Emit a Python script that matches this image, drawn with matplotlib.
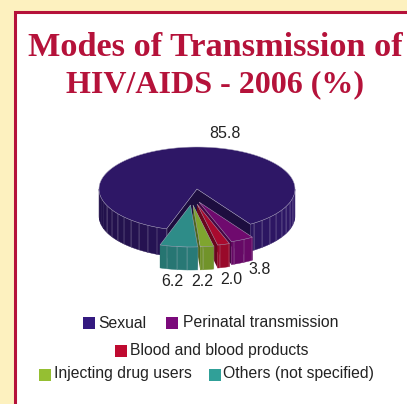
import numpy as np
import matplotlib
matplotlib.use('Agg')
import matplotlib.pyplot as plt
from matplotlib.colors import to_rgb
from matplotlib.patches import Rectangle, Polygon

# Datos
modes = ['Sexual', 'Perinatal transmission', 'Blood and blood products',
         'Injecting drug users', 'Others (not specified)']
values = [85.8, 3.8, 2.0, 2.2, 6.2]
value_labels = ['85.8', '3.8', '2.0', '2.2', '6.2']

colors = ['#2E1766', '#6F0A6E', '#A90A2E', '#7FA52F', '#2E8C88']
legend_colors = ['#341A80', '#7B0A7B', '#BF0A30', '#95BF32', '#30A098']
label_pos = [(225, 134), (260, 270), (231, 279), (202, 282), (172, 281)]
legend_pos = [(83, 323), (166, 323), (115, 351), (39, 375), (209, 375)]
legend_text_dx = [15, 17, 15, 15, 14]
legend_text_y = [323.5, 322.5, 350.5, 373.5, 373.5]
# desplazamiento de cada porcion (pixeles)
offsets = [(0, 0), (2, 13), (0, 15), (-4, 16), (-6.5, 16)]
depths = [27, 23, 23, 23, 23]

cx, cy = 197, 189
rx, ry = 98, 42
red_line = '#B5123A'


def shade(color, f):
    return tuple(min(1, c * f) for c in to_rgb(color))


def arc(a0, a1, ox, oy):
    n = max(int(abs(a1 - a0) / 2), 2)
    t = np.radians(np.linspace(a0, a1, n))
    return cx + ox + rx * np.cos(t), cy + oy - ry * np.sin(t)


def draw_slice(ax, a0, a1, color, ox, oy, depth, z, main=False):
    ax0, ay0 = cx + ox, cy + oy
    xs, ys = arc(a0, a1, ox, oy)
    # caras radiales
    for px, py in [(xs[0], ys[0]), (xs[-1], ys[-1])]:
        ax.add_patch(Polygon([(ax0, ay0), (px, py), (px, py + depth), (ax0, ay0 + depth)],
                             fc=shade(color, 0.62), ec='none', zorder=z))
    # pared exterior, por tramos
    step = 6
    angles = np.arange(a0, a1, -step)
    angles = np.append(angles, a1)
    for a, b in zip(angles[:-1], angles[1:]):
        t = np.radians(np.linspace(a, b, 4))
        if np.sin(t).mean() > 0.02:
            continue
        wx = cx + ox + rx * np.cos(t)
        wy = cy + oy - ry * np.sin(t)
        f = 0.74 + 0.26 * (np.cos(t.mean()) + 1) / 2
        pts = list(zip(wx, wy)) + list(zip(wx[::-1], wy[::-1] + depth))
        ax.add_patch(Polygon(pts, fc=shade(color, f), ec=shade(color, f), lw=0.3, zorder=z + 0.1))
        # en la principal las lineas solo aparecen cerca del corte
        if not main or -160 < (a % 360) - 360 < -10:
            ax.plot([wx[0], wx[0]], [wy[0], wy[0] + depth], color='#C4BFD2', lw=0.35,
                    alpha=0.55, zorder=z + 0.2)
    # cara superior
    pts = [(ax0, ay0)] + list(zip(xs, ys))
    ax.add_patch(Polygon(pts, fc=color, ec='#A9A3BD', lw=0.35, zorder=z + 0.3))


fig = plt.figure(figsize=(4.07, 4.04), dpi=100, facecolor='#FDF1BF')
ax = fig.add_axes([0, 0, 1, 1])
ax.set_xlim(0, 407)
ax.set_ylim(404, 0)
ax.axis('off')

# Marco
ax.add_patch(Rectangle((15, 11.5), 400, 400, fc='white', ec=red_line, lw=2.2))

# Titulo
ax.text(215, 47, 'Modes of Transmission of', family='Liberation Serif', weight='bold',
        fontsize=24.7, color=red_line, ha='center', va='center')
ax.text(214.5, 85, 'HIV/AIDS - 2006 (%)', family='Liberation Serif', weight='bold',
        fontsize=23, color=red_line, ha='center', va='center')

# Pie 3D: porciones en sentido horario desde el borde de la principal
sweeps = np.array(values) / sum(values) * 360
start = -108.1 + 360
for i, (val, sw) in enumerate(zip(values, sweeps)):
    end = start - sw
    ox, oy = offsets[i]
    draw_slice(ax, start, end, colors[i], ox, oy, depths[i], 2 + i, main=(i == 0))
    start = end

# Etiquetas de valores
for lab, (x, y) in zip(value_labels, label_pos):
    ax.text(x, y, lab, family='Liberation Sans', fontsize=11.5, color='#222222',
            ha='center', va='center', zorder=10)

# Leyenda
for name, c, (x, y), dx, ty in zip(modes, legend_colors, legend_pos, legend_text_dx, legend_text_y):
    ax.add_patch(Rectangle((x, y - 6), 12, 12, fc=c, ec='none', zorder=10))
    ax.text(x + dx, ty, name, family='Liberation Sans', fontsize=11.3, color='#222222',
            ha='left', va='center', zorder=10)

fig.savefig('out.png', dpi=100, facecolor=fig.get_facecolor())
